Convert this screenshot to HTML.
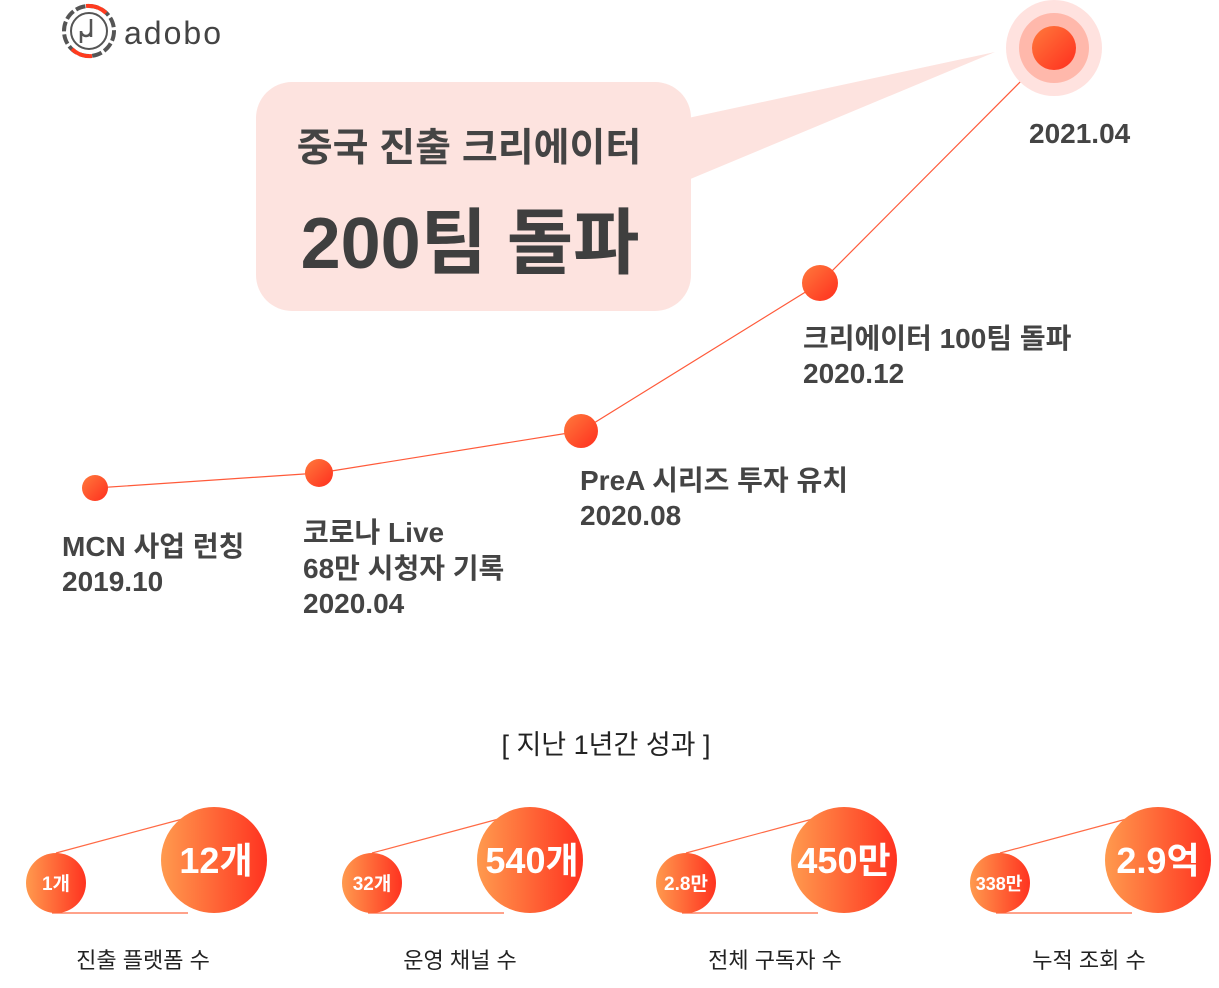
<!DOCTYPE html>
<html><head><meta charset="utf-8"><style>
body{margin:0;width:1219px;height:988px;background:#fff;overflow:hidden;font-family:"Liberation Sans","Noto Sans CJK KR",sans-serif;}
svg{position:absolute;left:0;top:0}
text{font-family:"Liberation Sans","Noto Sans CJK KR",sans-serif}
</style></head><body>
<svg width="1219" height="988" viewBox="0 0 1219 988">
<defs>
<linearGradient id="g" x1="0" y1="0" x2="1" y2="0"><stop offset="0" stop-color="#ff9a4e"/><stop offset="1" stop-color="#ff3320"/></linearGradient>
<linearGradient id="d" x1="0" y1="0" x2="1" y2="1"><stop offset="0" stop-color="#ff7a3c"/><stop offset="1" stop-color="#ff2e1e"/></linearGradient>
</defs>
<g transform="translate(89,31)" fill="none" stroke-width="4">
<circle r="25" stroke="#555" stroke-dasharray="10 3"/>
<path d="M-3,-25 A25,25 0 0 1 17,-18" stroke="#ff3b1f"/>
<path d="M-17,18 A25,25 0 0 0 3,25" stroke="#ff3b1f"/>
<circle r="18" stroke="#555" stroke-width="2"/>
<path d="M2,-12 V6 M2,0 a5,5 0 1 1 -10,0 v12" stroke="#555" stroke-width="2.5"/>
</g>
<text x="124" y="44" font-size="32" fill="#444" letter-spacing="2">adobo</text>
<polygon points="688,118 995,52 688,180" fill="#fde3df"/>
<rect x="256" y="82" width="435" height="229" rx="36" fill="#fde3df"/>
<text x="469" y="161" text-anchor="middle" font-size="39" font-weight="bold" fill="#444">중국 진출 크리에이터</text>
<text x="470" y="268" text-anchor="middle" font-size="72" font-weight="bold" fill="#3f3f3f">200팀 돌파</text>
<polyline points="95,488 319,473 581,431 820,283 1054,48" fill="none" stroke="#ff5a3a" stroke-width="1.2"/>
<circle cx="1054" cy="48" r="48" fill="#ffe2df"/>
<circle cx="1054" cy="48" r="35" fill="#ffb8ab"/>
<circle cx="1054" cy="48" r="22" fill="url(#d)"/>
<circle cx="95" cy="488" r="13" fill="url(#d)"/>
<circle cx="319" cy="473" r="14" fill="url(#d)"/>
<circle cx="581" cy="431" r="17" fill="url(#d)"/>
<circle cx="820" cy="283" r="18" fill="url(#d)"/>
<g font-size="28" font-weight="bold" fill="#444">
<text x="1029" y="143">2021.04</text>
<text x="803" y="348">크리에이터 100팀 돌파</text>
<text x="803" y="383">2020.12</text>
<text x="580" y="490">PreA 시리즈 투자 유치</text>
<text x="580" y="525">2020.08</text>
<text x="303" y="542">코로나 Live</text>
<text x="303" y="578">68만 시청자 기록</text>
<text x="303" y="613">2020.04</text>
<text x="62" y="556">MCN 사업 런칭</text>
<text x="62" y="591">2019.10</text>
</g>
<text x="606" y="754" text-anchor="middle" font-size="27" fill="#222">[ 지난 1년간 성과 ]</text>
<g id="b1">
<line x1="56" y1="853" x2="190" y2="817" stroke="#ff6a45" stroke-width="1.2"/>
<line x1="52" y1="913" x2="188" y2="913" stroke="#ff6a45" stroke-width="1.2"/>
<circle cx="56" cy="883" r="30" fill="url(#g)"/>
<circle cx="214" cy="860" r="53" fill="url(#g)"/>
</g>
<use href="#b1" x="316"/><use href="#b1" x="630"/><use href="#b1" x="944"/>
<g fill="#fff" font-weight="bold" text-anchor="middle">
<text x="56" y="890" font-size="19">1개</text>
<text x="216" y="873" font-size="36">12개</text>
<text x="372" y="890" font-size="19">32개</text>
<text x="532" y="873" font-size="36">540개</text>
<text x="686" y="890" font-size="19">2.8만</text>
<text x="844" y="873" font-size="36">450만</text>
<text x="999" y="890" font-size="18">338만</text>
<text x="1158" y="873" font-size="36">2.9억</text>
</g>
<g font-size="22" fill="#222" text-anchor="middle">
<text x="143" y="968">진출 플랫폼 수</text>
<text x="460" y="968">운영 채널 수</text>
<text x="775" y="968">전체 구독자 수</text>
<text x="1089" y="968">누적 조회 수</text>
</g>
</svg>
</body></html>
